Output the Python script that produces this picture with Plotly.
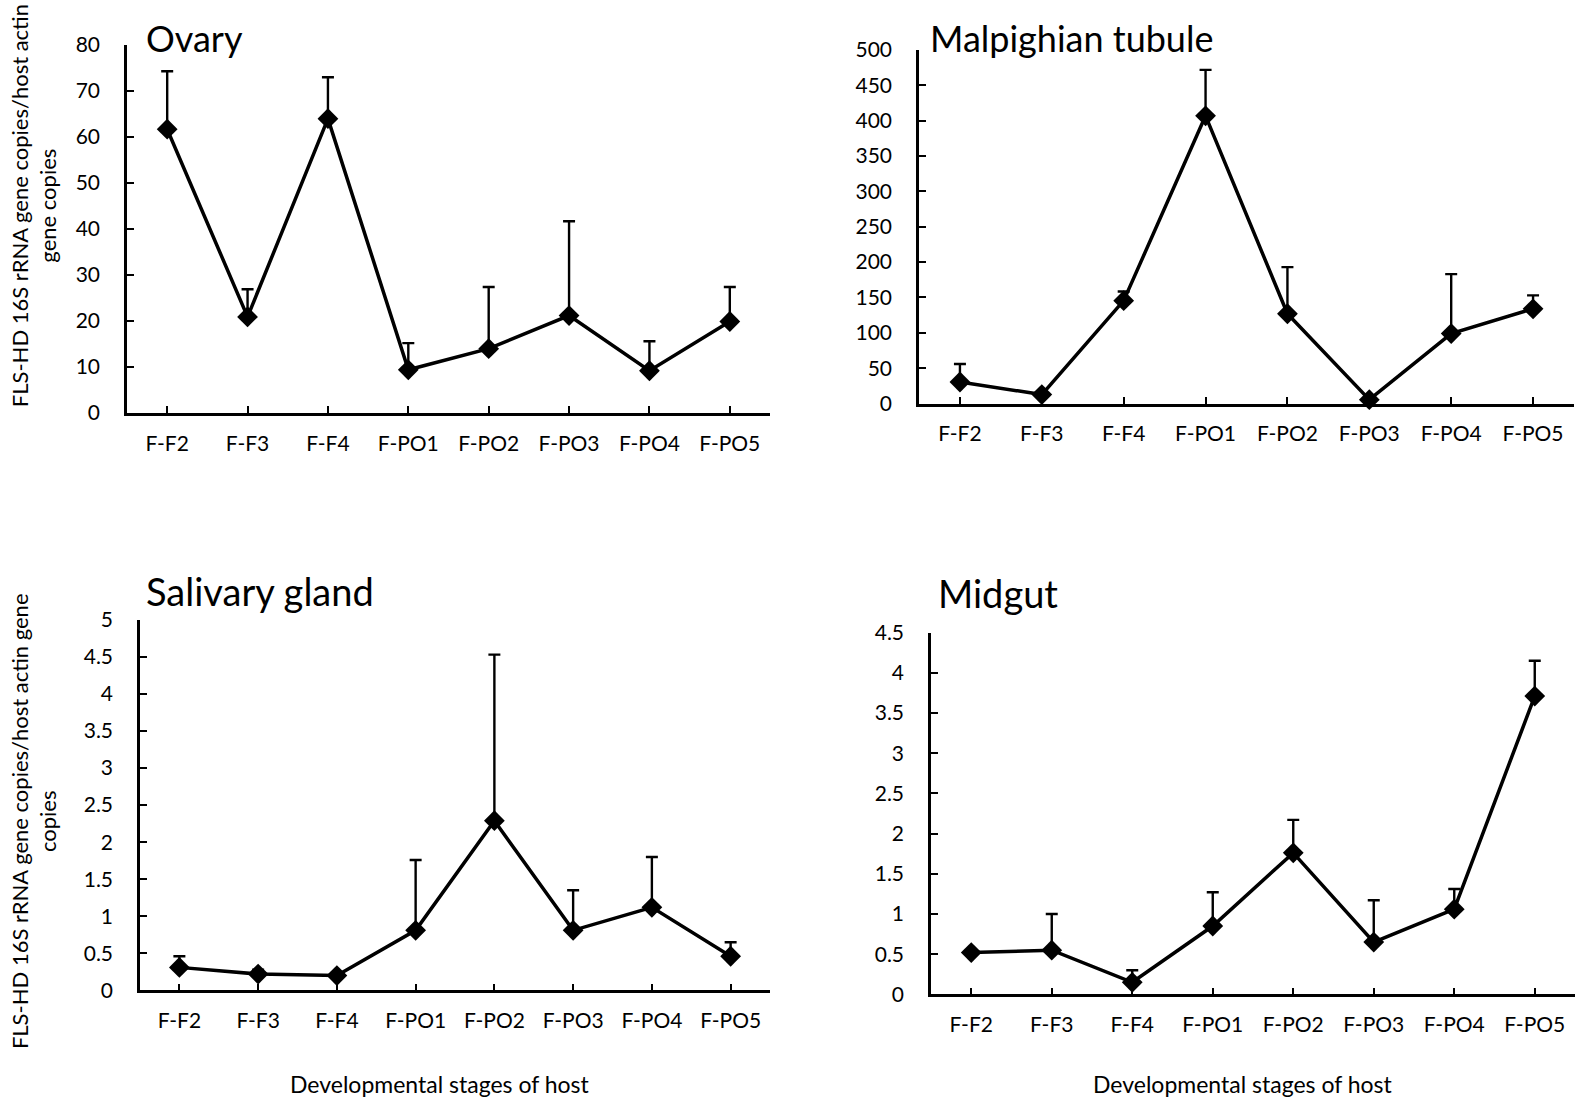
import plotly.graph_objects as go

W, H = 1575, 1104

stages = ["F-F2", "F-F3", "F-F4", "F-PO1", "F-PO2", "F-PO3", "F-PO4", "F-PO5"]

ovary_mean = [61.7, 20.9, 64.0, 9.4, 14.0, 21.2, 9.2, 19.9]
ovary_sd = [12.6, 6.0, 9.0, 5.8, 13.4, 20.5, 6.4, 7.5]

malp_mean = [30.5, 12.7, 145.5, 407, 127, 5.5, 99, 134]
malp_sd = [25.5, 0, 13, 65, 66, 0, 84, 19]

saliv_mean = [0.31, 0.22, 0.20, 0.81, 2.29, 0.81, 1.12, 0.46]
saliv_sd = [0.15, 0.06, 0, 0.95, 2.24, 0.54, 0.68, 0.19]

midgut_mean = [0.52, 0.55, 0.15, 0.85, 1.76, 0.65, 1.06, 3.71]
midgut_sd = [0, 0.45, 0.15, 0.42, 0.41, 0.52, 0.25, 0.44]

panel_titles = ["Ovary", "Malpighian tubule", "Salivary gland", "Midgut"]
y_title_top = "FLS-HD 16S rRNA gene copies/host actin<br>gene copies"
y_title_bottom = "FLS-HD 16S rRNA gene copies/host actin gene<br>copies"
x_title = "Developmental stages of host"

FONT = "Lato"


def px_x(p):
    return min(1.0, (p + 3) / W)


def px_y(p):
    return max(0.0, min(1.0, 1 - ((p - 14) / 0.976) / H))


panels = [
    # mean, sd, x-domain px, y-domain px (bottom, top), y range, dtick
    (ovary_mean, ovary_sd, (124, 767), (412.5, 45), 80, 10),
    (malp_mean, malp_sd, (916, 1571), (403, 50), 500, 50),
    (saliv_mean, saliv_sd, (137, 767), (989, 619), 5, 0.5),
    (midgut_mean, midgut_sd, (928, 1572), (993, 631.7), 4.5, 0.5),
]

fig = go.Figure()
xs = list(range(len(stages)))

layout = dict(
    width=W, height=H, margin=dict(l=0, r=0, t=0, b=0),
    paper_bgcolor="white", plot_bgcolor="white", showlegend=False,
    font=dict(family=FONT, color="black", size=21),
)

for i, (mean, sd, xd, yd, ymax, dt) in enumerate(panels, start=1):
    xa = "x" if i == 1 else f"x{i}"
    ya = "y" if i == 1 else f"y{i}"
    fig.add_trace(go.Scatter(
        x=xs, y=mean, xaxis=xa, yaxis=ya, mode="lines+markers",
        line=dict(color="black", width=3.5),
        marker=dict(symbol="diamond", size=16, color="black"),
        error_y=dict(type="data", symmetric=False, array=sd,
                     arrayminus=[0] * len(sd), color="black",
                     thickness=2.4, width=6),
        cliponaxis=False,
    ))
    xkey = "xaxis" if i == 1 else f"xaxis{i}"
    ykey = "yaxis" if i == 1 else f"yaxis{i}"
    layout[xkey] = dict(
        domain=[px_x(xd[0]), px_x(xd[1])], anchor=ya,
        range=[-0.5, len(stages) - 0.5],
        tickmode="array", tickvals=xs + [len(stages) - 0.5],
        ticktext=stages + [""],
        ticks="inside", ticklen=7, tickwidth=2, tickcolor="black",
        showline=True, linecolor="black", linewidth=2.5,
        showgrid=False, zeroline=False, ticklabelstandoff=10,
        tickfont=dict(size=21, family=FONT),
    )
    layout[ykey] = dict(
        domain=[px_y(yd[0]), px_y(yd[1])], anchor=xa,
        range=[0, ymax], dtick=dt, tick0=0,
        ticks="inside", ticklen=7, tickwidth=2, tickcolor="black",
        showline=True, linecolor="black", linewidth=2.5,
        showgrid=False, zeroline=False, ticklabelstandoff=20,
        tickfont=dict(size=21, family=FONT),
    )

fig.update_layout(**layout)

annotations = []
# top-row titles anchored to the top edge so they stay inside the canvas
title_specs = [(141, 1.0, "top", 36), (925, 1.0, "top", 36),
               (141, px_y(590), "middle", 38), (933, px_y(592), "middle", 38)]
for t, (px, yv, ya, fs) in zip(panel_titles, title_specs):
    annotations.append(dict(
        text=t, x=px_x(px), y=yv, xref="paper", yref="paper",
        xanchor="left", yanchor=ya, showarrow=False,
        font=dict(size=fs, family=FONT, color="black"),
    ))

for txt, cy in [(y_title_top, 206), (y_title_bottom, 820)]:
    annotations.append(dict(
        text=txt, x=px_x(31), y=px_y(cy), xref="paper", yref="paper",
        xanchor="center", yanchor="middle", showarrow=False, textangle=-90,
        font=dict(size=22, family=FONT, color="black"), align="center",
    ))

for cx in [437, 1240]:
    annotations.append(dict(
        text=x_title, x=px_x(cx), y=px_y(1083), xref="paper", yref="paper",
        xanchor="center", yanchor="middle", showarrow=False,
        font=dict(size=23, family=FONT, color="black"),
    ))

fig.update_layout(annotations=annotations)

fig.write_html(
    "out.html",
    config={"displayModeBar": False},
    post_script="document.body.style.margin='0';document.body.style.overflow='hidden';",
)
